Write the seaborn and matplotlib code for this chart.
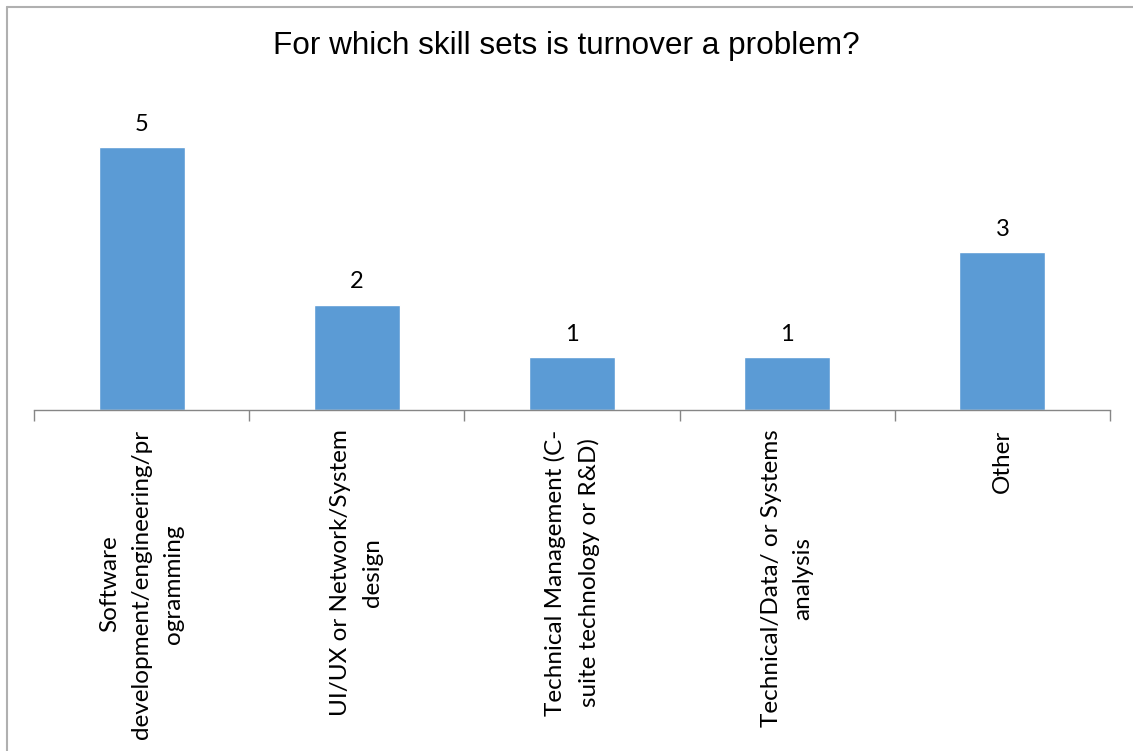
import matplotlib
matplotlib.use("Agg")
import matplotlib.pyplot as plt
from matplotlib.lines import Line2D
import numpy as np
import pandas as pd
import seaborn as sns

categories = [
    "Software\ndevelopment/engineering/pr\nogramming",
    "UI/UX or Network/System\ndesign",
    "Technical Management (C-\nsuite technology or R&D)",
    "Technical/Data/ or Systems\nanalysis",
    "Other",
]
counts = [5, 2, 1, 1, 3]
title = "For which skill sets is turnover a problem?"

df = pd.DataFrame({"skill": categories, "count": counts})

sns.set_theme(style="white")
plt.rcParams["font.family"] = ["Lato", "DejaVu Sans"]

W, H = 1133, 751
fig = plt.figure(figsize=(W / 100, H / 100), dpi=100)
ax = fig.add_axes([34 / W, (H - 410) / H, (1110 - 34) / W, 0.42])

sns.barplot(data=df, x="skill", y="count", color="#5B9BD5", width=0.4,
            saturation=1, ax=ax)

ax.set_xlim(-0.5, len(categories) - 0.5)
ax.set_ylim(0, 6)
ax.set_xlabel("")
ax.set_ylabel("")
ax.set_yticks([])

for c in ax.containers:
    ax.bar_label(c, labels=[str(v) for v in counts], padding=9,
                 fontsize=17, color="black")

# category labels, rotated and centred under each bar
ax.set_xticks(range(len(categories)))
ax.set_xticklabels(categories, rotation=90, fontsize=17.5, color="black",
                   ha="center", va="top", multialignment="center",
                   linespacing=1.65)
ax.tick_params(axis="x", which="major", length=0, pad=14)
ax.set_xticks(np.arange(-0.5, len(categories)), minor=True)
ax.tick_params(axis="x", which="minor", length=8, width=1, color="#868686",
               direction="out", bottom=True)

for s in ["top", "right", "left"]:
    ax.spines[s].set_visible(False)
ax.spines["bottom"].set_color("#868686")
ax.spines["bottom"].set_linewidth(1)

fig.text(0.5, 1 - 46 / H, title, ha="center", va="center", fontsize=22.7,
         family=["Liberation Sans", "DejaVu Sans"], color="black")

# chart frame (top and left edges)
fig.add_artist(Line2D([7 / W, 1.0], [1 - 6.5 / H, 1 - 6.5 / H],
                      transform=fig.transFigure, color="#b0b0b0", lw=1.5))
fig.add_artist(Line2D([7 / W, 7 / W], [0, 1 - 6.5 / H],
                      transform=fig.transFigure, color="#b0b0b0", lw=1.5))

fig.savefig("out.png", dpi=100, facecolor="white")
